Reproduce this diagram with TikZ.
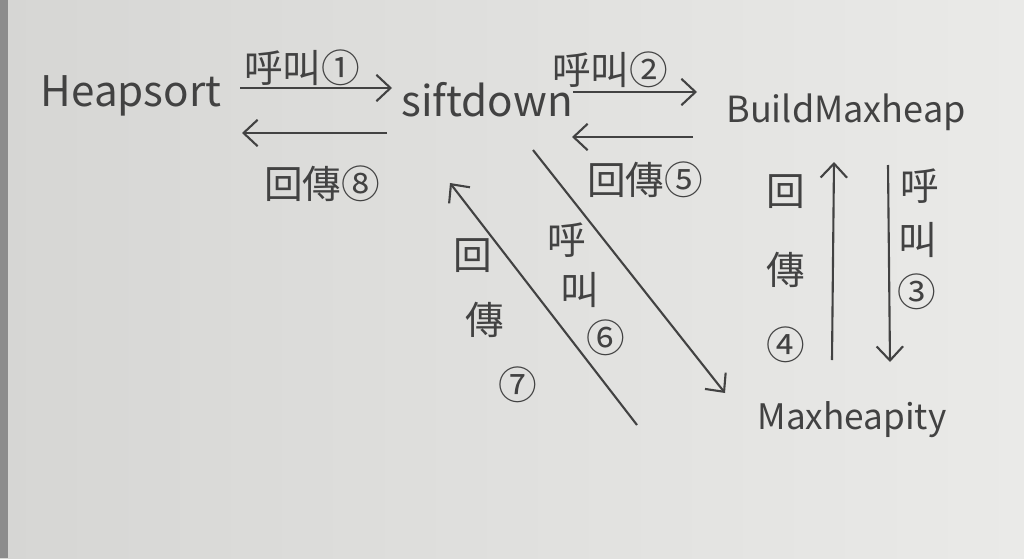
\documentclass[tikz,border=0pt]{standalone}
\usepackage{fontspec}
\setmainfont{Noto Sans CJK TC}
\usetikzlibrary{arrows.meta}
\definecolor{paperL}{RGB}{214,214,212}
\definecolor{paperR}{RGB}{234,234,232}
\definecolor{edge}{RGB}{140,140,140}
\definecolor{ink}{RGB}{66,66,66}
\tikzset{
  fname/.style={font=\fontsize{24}{26}\selectfont, text=ink, inner sep=0pt},
  tag/.style={font=\fontsize{22}{24}\selectfont, text=ink, inner sep=0pt},
  flow/.style={draw=ink, line width=1.2pt, -{Straight Barb[length=8pt,width=15pt]}},
}
\begin{document}
\begin{tikzpicture}[x=0.02cm, y=-0.02cm]
% paper
\shade[left color=paperL, right color=paperR] (0,0) rectangle (1024,558);
\fill[edge] (0,0) rectangle (8,558);
\useasboundingbox (0,0) rectangle (1024,558);

% functions
\node[fname] (heapsort) at (131,96) {Heapsort};
\node[fname] (siftdown) at (487,100) {siftdown};
\node[fname, font=\fontsize{20.5}{24}\selectfont] (buildmax) at (846,112) {BuildMaxheap};
\node[fname, font=\fontsize{20}{24}\selectfont] (maxheapity) at (852,420) {Maxheapity};

% arrow ends
\coordinate (c1s) at (240,88);  \coordinate (c1e) at (392,88);
\coordinate (r8s) at (387,133); \coordinate (r8e) at (242,133);
\coordinate (c2s) at (573,92);  \coordinate (c2e) at (697,92);
\coordinate (r5s) at (693,137); \coordinate (r5e) at (572,137);
\coordinate (c6s) at (533,150); \coordinate (c6e) at (725,393);
\coordinate (r7s) at (637,425); \coordinate (r7e) at (450,183);
\coordinate (r4s) at (832,360); \coordinate (r4e) at (834,162);
\coordinate (c3s) at (888,165); \coordinate (c3e) at (890,362);

\draw[flow] (c1s) -- (c1e);
\draw[flow] (r8s) -- (r8e);
\draw[flow] (c2s) -- (c2e);
\draw[flow] (r5s) -- (r5e);
\draw[flow] (c6s) -- (c6e);
\draw[flow] (r7s) -- (r7e);
\draw[flow] (r4s) -- (r4e);
\draw[flow] (c3s) -- (c3e);

% labels
\node[tag] (call1) at (302,68) {呼叫①};
\node[tag] (ret8) at (322,184) {回傳⑧};
\node[tag] (call2) at (610,70) {呼叫②};
\node[tag] (ret5) at (645,180) {回傳⑤};

\node[tag] (call6a) at (567,240) {呼};
\node[tag] (call6b) at (580,290) {叫};
\node[tag] (call6c) at (606,338) {⑥};

\node[tag] (ret7a) at (473,256) {回};
\node[tag] (ret7b) at (485,320) {傳};
\node[tag] (ret7c) at (518,385) {⑦};

\node[tag] (ret4a) at (786,192) {回};
\node[tag] (ret4b) at (786,270) {傳};
\node[tag] (ret4c) at (786,345) {④};

\node[tag] (call3a) at (920,186) {呼};
\node[tag] (call3b) at (918,240) {叫};
\node[tag] (call3c) at (917,292) {③};
\end{tikzpicture}
\end{document}
